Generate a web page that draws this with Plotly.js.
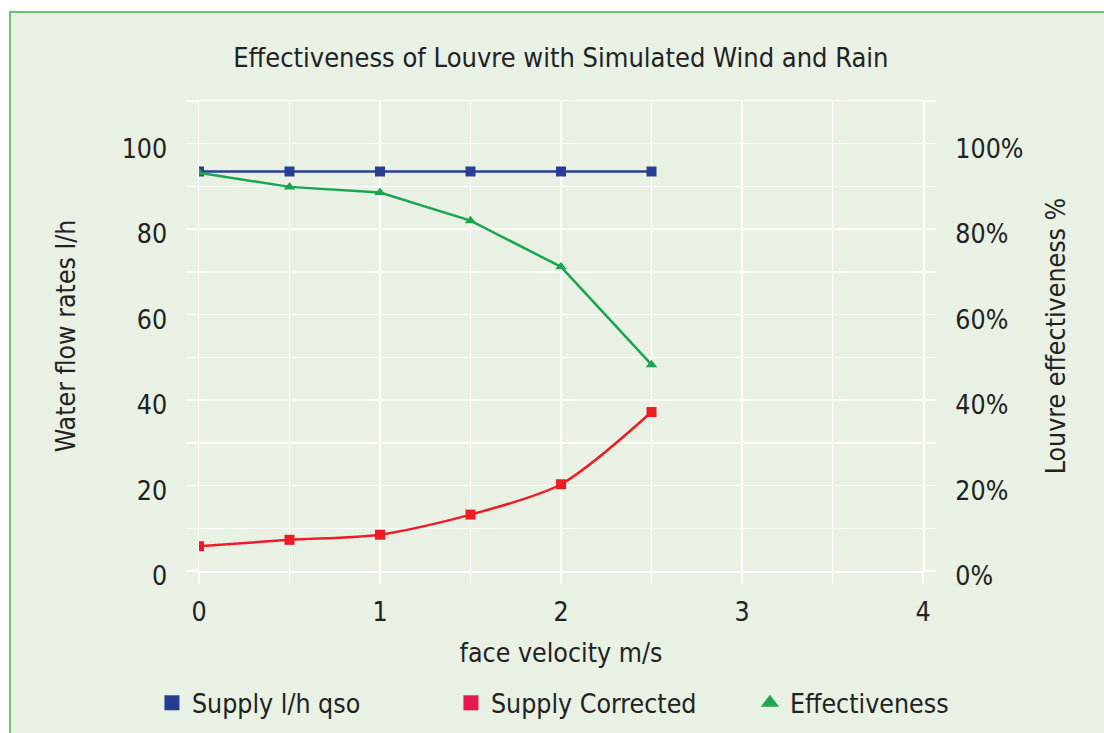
<!DOCTYPE html>
<html><head><meta charset="utf-8">
<script src="https://cdn.plot.ly/plotly-3.0.1.min.js"></script>
<style>
html,body{margin:0;padding:0;background:#fff;width:1104px;height:733px;overflow:hidden;}
#bg{position:absolute;left:9px;top:11px;width:1095px;height:722px;background:#e8f1e4;border-left:2px solid #6cc070;border-top:2px solid #6cc070;}
#chart{position:absolute;left:0;top:0;width:1104px;height:733px;}
</style></head>
<body><div id="bg"></div><div id="chart"></div>
<script>
const velocity = [0, 0.5, 1, 1.5, 2, 2.5];
const supply = [93.5, 93.5, 93.5, 93.5, 93.5, 93.5];
const supplyCorrected = [5.8, 7.3, 8.5, 13.2, 20.3, 37.2];
const effectiveness = [93.2, 89.9, 88.6, 82.0, 71.2, 48.3];
const seriesNames = ['Supply l/h qso', 'Supply Corrected', 'Effectiveness'];
const yTicks = [0, 20, 40, 60, 80, 100];
const y2TickText = yTicks.map(v => v + '%');

const font = "'DejaVu Sans Condensed', 'DejaVu Sans', sans-serif";
const blue = '#2a3f93', red = '#ee1c25', green = '#1aa64e';
const txt = '#222';

const traces = [
  {x: velocity, y: supply, mode: 'lines+markers', name: seriesNames[0], showlegend: false,
   line: {color: blue, width: 2.5}, marker: {symbol: 'square', size: 10, color: blue}},
  {x: velocity, y: supplyCorrected, mode: 'lines+markers', name: seriesNames[1], showlegend: false,
   line: {color: red, width: 2.5, shape: 'spline', smoothing: 0.8}, marker: {symbol: 'square', size: 10, color: red}},
  {x: velocity, y: effectiveness, mode: 'lines+markers', name: seriesNames[2], showlegend: false, yaxis: 'y2',
   line: {color: green, width: 2.5}, marker: {symbol: 'triangle-up', size: 10, color: green}},
  {x: [null], y: [null], mode: 'markers', name: seriesNames[0], marker: {symbol: 'square', size: 15, color: '#253d8f'}},
  {x: [null], y: [null], mode: 'markers', name: seriesNames[1], marker: {symbol: 'square', size: 15, color: '#e8194b'}},
  {x: [null], y: [null], mode: 'markers', name: seriesNames[2], marker: {symbol: 'triangle-up', size: 17, color: '#22a64c'}}
];

const layout = {
  width: 1104, height: 733,
  paper_bgcolor: 'rgba(0,0,0,0)', plot_bgcolor: '#e8f1e4',
  margin: {l: 199, r: 181, t: 101, b: 162, autoexpand: false},
  font: {family: font, size: 26.5, color: txt},
  title: {text: 'Effectiveness of Louvre with Simulated Wind and Rain', x: 0.508, xanchor: 'center', y: 0.922, yanchor: 'middle',
          font: {family: font, size: 27, color: txt}},
  xaxis: {range: [0, 4], dtick: 1, tick0: 0, showgrid: true, gridcolor: '#ffffff', gridwidth: 1.5,
          ticks: 'outside', ticklen: 11, tickcolor: '#ffffff', tickwidth: 1.5,
          minor: {dtick: 0.5, showgrid: true, gridcolor: '#ffffff', gridwidth: 1.5, ticks: 'outside', ticklen: 11, tickcolor: '#ffffff'},
          zeroline: false, showline: true, linecolor: '#ffffff', linewidth: 1.5, mirror: true,
          ticklabelstandoff: 6,
          title: {text: 'face velocity m/s', standoff: 17, font: {family: font, size: 26.5, color: txt}},
          tickfont: {family: font, size: 26.5, color: txt}},
  yaxis: {range: [0, 110], tickvals: yTicks, showgrid: true, gridcolor: '#ffffff', gridwidth: 1.5,
          ticks: 'outside', ticklen: 12, tickcolor: '#ffffff', tickwidth: 1.5,
          minor: {dtick: 10, showgrid: true, gridcolor: '#ffffff', gridwidth: 1.5, ticks: 'outside', ticklen: 12, tickcolor: '#ffffff'},
          zeroline: false, showline: true, linecolor: '#ffffff', linewidth: 1.5, mirror: true,
          ticklabelstandoff: 13, ticklabelshift: 5,
          title: {text: 'Water flow rates l/h', standoff: 38, font: {family: font, size: 26.5, color: txt}},
          tickfont: {family: font, size: 26.5, color: txt}},
  yaxis2: {range: [0, 110], tickvals: yTicks, ticktext: y2TickText, overlaying: 'y', side: 'right', showgrid: false,
           ticks: 'outside', ticklen: 12, tickcolor: '#ffffff', tickwidth: 1.5,
           minor: {dtick: 10, ticks: 'outside', ticklen: 12, tickcolor: '#ffffff'},
           zeroline: false, ticklabelstandoff: 14, ticklabelshift: 5,
           title: {text: 'Louvre effectiveness %', standoff: 23, font: {family: font, size: 26.5, color: txt}},
           tickfont: {family: font, size: 26.5, color: txt}},
  legend: {orientation: 'h', x: -0.065, xanchor: 'left', y: -0.281, yanchor: 'middle',
           entrywidth: 254, entrywidthmode: 'pixels',
           font: {family: font, size: 26.5, color: txt}, bgcolor: 'rgba(0,0,0,0)', itemwidth: 30, tracegroupgap: 0},
  showlegend: true
};

Plotly.newPlot('chart', traces, layout, {displayModeBar: false, staticPlot: true});
</script></body></html>
